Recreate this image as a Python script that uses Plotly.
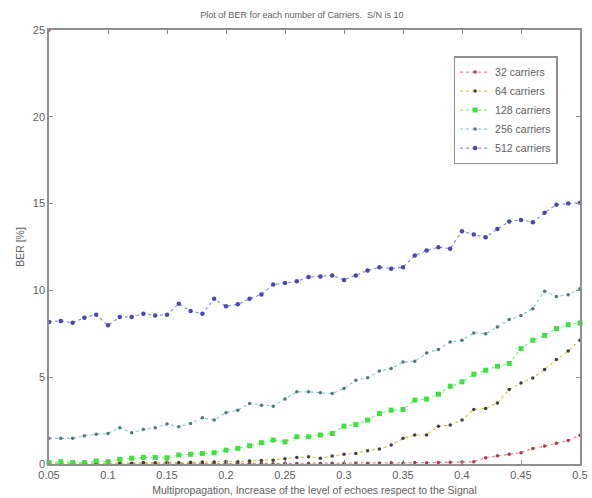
import plotly.graph_objects as go

x_vals = [round(0.05 + 0.01 * i, 2) for i in range(46)]

ber_32 = [25.0, 0.0, 0.01, 0.0, 0.01, 0.0, 0.01, 0.01, 0.0, 0.02, 0.01, 0.02, 0.02, 0.01, 0.02, 0.03,
          0.02, 0.03, 0.03, 0.02, 0.04, 0.03, 0.04, 0.05, 0.04, 0.05, 0.06, 0.05, 0.06, 0.07, 0.06,
          0.08, 0.07, 0.09, 0.1, 0.12, 0.13, 0.36, 0.48, 0.56, 0.65, 0.9, 1.03, 1.19, 1.35, 1.65]
ber_64 = [0.05, 0.02, 0.05, 0.03, 0.05, 0.04, 0.06, 0.05, 0.08, 0.07, 0.1, 0.08, 0.1, 0.12, 0.12,
          0.15, 0.13, 0.17, 0.2, 0.22, 0.3, 0.38, 0.42, 0.33, 0.46, 0.56, 0.61, 0.77, 0.86, 1.09,
          1.48, 1.67, 1.67, 2.18, 2.24, 2.53, 3.14, 3.2, 3.52, 4.29, 4.67, 4.96, 5.44, 6.02, 6.51, 7.13]
ber_128 = [0.08, 0.13, 0.08, 0.08, 0.17, 0.13, 0.27, 0.33, 0.38, 0.38, 0.36, 0.52, 0.56, 0.61, 0.65,
           0.8, 0.9, 1.05, 1.23, 1.38, 1.28, 1.57, 1.57, 1.67, 1.76, 2.18, 2.28, 2.53, 2.91, 3.1,
           3.14, 3.68, 3.74, 4.02, 4.48, 4.73, 5.17, 5.4, 5.63, 5.79, 6.65, 7.13, 7.41, 7.8, 8.03, 8.12]
ber_256 = [1.48, 1.48, 1.48, 1.63, 1.72, 1.76, 2.09, 1.8, 1.99, 2.09, 2.3, 2.15, 2.34, 2.66, 2.53,
           2.95, 3.1, 3.49, 3.39, 3.33, 3.74, 4.16, 4.16, 4.1, 4.06, 4.35, 4.83, 4.97, 5.36, 5.5,
           5.88, 5.92, 6.4, 6.59, 7.03, 7.13, 7.55, 7.51, 7.89, 8.32, 8.56, 8.95, 9.95, 9.65, 9.75, 10.1]
ber_512 = [8.18, 8.24, 8.14, 8.43, 8.6, 7.99, 8.47, 8.47, 8.66, 8.56, 8.6, 9.23, 8.81, 8.66, 9.52,
           9.08, 9.2, 9.52, 9.77, 10.34, 10.42, 10.53, 10.77, 10.8, 10.86, 10.6, 10.86, 11.15, 11.34,
           11.25, 11.34, 12.01, 12.3, 12.49, 12.4, 13.41, 13.22, 13.06, 13.54, 13.97, 14.06, 13.93,
           14.47, 14.94, 15.0, 15.05]

series = [
    ("32 carriers", ber_32, "#f08080", "#a04050", "circle", 3.5),
    ("64 carriers", ber_64, "#d8c840", "#404040", "circle", 3.5),
    ("128 carriers", ber_128, "#80f080", "#40e040", "square", 5),
    ("256 carriers", ber_256, "#80d0d0", "#507878", "circle", 3.5),
    ("512 carriers", ber_512, "#9090e0", "#4848b0", "circle", 4.5),
]

fig = go.Figure()
for name, ys, lc, mc, sym, ms in series:
    xs = list(x_vals)
    yv = list(ys)
    if name == "32 carriers":
        # first sample is isolated in the reference (no connecting segment)
        xs = [xs[0], None] + xs[1:]
        yv = [yv[0], None] + yv[1:]
    fig.add_trace(go.Scatter(
        x=xs, y=yv, name=name, mode="lines+markers", connectgaps=False,
        line=dict(color=lc, width=1.2, dash="dot"),
        marker=dict(color=mc, symbol=sym, size=ms, line=dict(width=0)),
        cliponaxis=False,
    ))

axis_common = dict(
    showgrid=False, zeroline=False, showline=True, linecolor="#909090", linewidth=1.5,
    mirror="ticks", ticks="inside", ticklen=4, tickcolor="#909090", automargin=False,
    tickfont=dict(size=11, color="#606060", family="Liberation Sans"),
)

fig.update_layout(
    width=592, height=498,
    margin=dict(l=49, r=12, t=30, b=34),
    paper_bgcolor="white", plot_bgcolor="white",
    title=dict(text="Plot of BER for each number of Carriers.  S/N is 10",
               x=0.51, xanchor="center", y=0.97, yanchor="middle",
               font=dict(size=9, color="#606060", family="Liberation Sans")),
    xaxis=dict(range=[0.05, 0.5], tickvals=[0.05, 0.1, 0.15, 0.2, 0.25, 0.3, 0.35, 0.4, 0.45, 0.5],
               ticktext=["0.05", "0.1", "0.15", "0.2", "0.25", "0.3", "0.35", "0.4", "0.45", "0.5"],
               title=dict(text="Multipropagation, Increase of the level of echoes respect to the Signal",
                          font=dict(size=10.5, color="#606060", family="Liberation Sans"), standoff=7),
               **axis_common),
    yaxis=dict(range=[0, 25], tickvals=[0, 5, 10, 15, 20, 25],
               title=dict(text="BER [%]", font=dict(size=10.5, color="#606060", family="Liberation Sans"),
                          standoff=6),
               **axis_common),
    legend=dict(x=0.762, y=0.94, xanchor="left", yanchor="top",
                bordercolor="#909090", borderwidth=1.5, bgcolor="white",
                font=dict(size=10.5, color="#606060", family="Liberation Sans"),
                tracegroupgap=0, itemwidth=30),
    showlegend=True,
)

fig.write_html("out.html")
